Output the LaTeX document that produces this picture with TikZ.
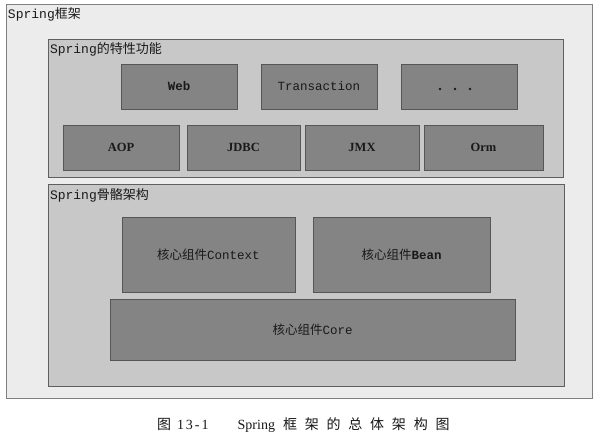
\documentclass[tikz,border=0pt]{standalone}
\usepackage{fontspec}
\setmainfont{Liberation Serif}
\newfontfamily\cjk{Noto Sans CJK SC}
\newfontfamily\mono{Liberation Mono}
\definecolor{outerfill}{RGB}{236,236,236}
\definecolor{groupfill}{RGB}{200,200,200}
\definecolor{compfill}{RGB}{132,132,132}
\definecolor{edgecol}{RGB}{95,95,95}
\definecolor{txtcol}{RGB}{25,25,25}
\newcommand{\cs}{\hspace{7.8pt}}
\begin{document}
\begin{tikzpicture}[x=1pt,y=-1pt,
  every node/.style={inner sep=0pt,outer sep=0pt,text=txtcol},
  outerbox/.style={draw=edgecol!80,fill=outerfill,line width=0.7pt,anchor=north west},
  groupbox/.style={draw=edgecol,fill=groupfill,line width=0.7pt,anchor=north west},
  compbox/.style={draw=edgecol!90!black,fill=compfill,line width=0.7pt,anchor=north west,
     font=\mono\fontsize{12.5}{14}\selectfont},
  serifbox/.style={compbox,font=\bfseries\fontsize{12.5}{14}\selectfont},
  grouplabel/.style={anchor=north west,font=\mono\fontsize{13}{15}\selectfont},
  dotmark/.style={fill=txtcol}]
\useasboundingbox (0,0) rectangle (601,439);
\fill[white] (0,0) rectangle (601,439);
% outer frame
\node[outerbox,minimum width=586pt,minimum height=394pt] (frame) at (6,4) {};
\node[grouplabel] (framelbl) at (8,8) {Spring{\cjk 框架}};
% features group
\node[groupbox,minimum width=515pt,minimum height=138pt] (features) at (48,39) {};
\node[grouplabel] (featlbl) at (50,43) {Spring{\cjk 的特性功能}};
\node[compbox,minimum width=116pt,minimum height=45pt] (web) at (121,64) {\textbf{Web}};
\node[compbox,minimum width=116pt,minimum height=45pt] (trans) at (261,64) {Transaction};
\node[compbox,minimum width=116pt,minimum height=45pt] (dots) at (401,64) {};
\fill[dotmark] ([xshift=-19pt,yshift=-2.5pt]dots.center) circle (1.4pt);
\fill[dotmark] ([xshift=-4pt,yshift=-2.5pt]dots.center) circle (1.4pt);
\fill[dotmark] ([xshift=11pt,yshift=-2.5pt]dots.center) circle (1.4pt);
\node[serifbox,minimum width=116pt,minimum height=45pt] (aop) at (63,125) {AOP};
\node[serifbox,minimum width=113pt,minimum height=45pt] (jdbc) at (187,125) {JDBC};
\node[serifbox,minimum width=114pt,minimum height=45pt] (jmx) at (305,125) {JMX};
\node[serifbox,minimum width=119pt,minimum height=45pt] (orm) at (424,125) {Orm};
% skeleton group
\node[groupbox,minimum width=516pt,minimum height=202pt] (skeleton) at (48,184) {};
\node[grouplabel] (skellbl) at (50,188) {Spring{\cjk 骨骼架构}};
\node[compbox,minimum width=173pt,minimum height=75pt] (context) at (122,217) {{\cjk\fontsize{12.5}{14}\selectfont 核心组件}Context};
\node[compbox,minimum width=177pt,minimum height=75pt] (bean) at (313,217) {{\cjk\fontsize{12.5}{14}\selectfont 核心组件}\textbf{Bean}};
\node[compbox,minimum width=405pt,minimum height=61pt] (core) at (110,299) {{\cjk\fontsize{12.5}{14}\selectfont 核心组件}Core};
% caption
\node[font=\fontsize{14}{16}\selectfont,anchor=west] (caption) at (157,425)
  {{\cjk 图}\hspace{6pt}1\hspace{2pt}3\hspace{2pt}-\hspace{2pt}1\hspace{29pt}Spring\hspace{8pt}{\cjk 框\cs 架\cs 的\cs 总\cs 体\cs 架\cs 构\cs 图}};
\end{tikzpicture}
\end{document}
